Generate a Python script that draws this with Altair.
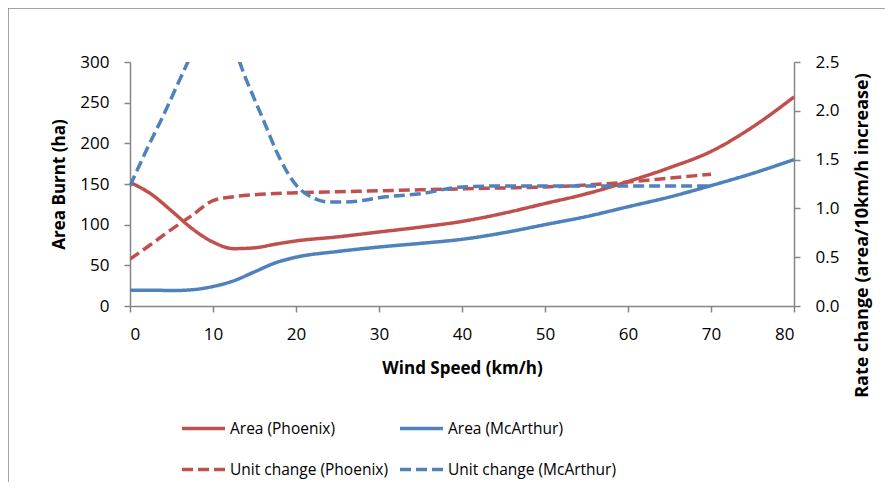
import altair as alt
import pandas as pd

# ---- data ----
area_x = [0, 2.5, 5, 7.5, 10, 12.5, 15, 17.5, 20, 25, 30, 35, 40, 45, 50, 55, 60, 65, 70, 75, 80]
area_phoenix = [152, 138, 117, 95, 78.6, 70.5, 71.5, 76, 80, 85, 91, 97, 104, 114, 126, 138, 153, 170, 190, 220, 257]
area_mcarthur = [19.5, 19.5, 19, 20, 24, 31, 42, 53, 60, 67, 72.5, 77, 82, 90, 100, 110, 122, 134, 148, 163, 180]

unit_ph_x = [0, 2.5, 5, 7.5, 10, 12.5, 15, 20, 25, 30, 35, 40, 45, 50, 55, 60, 65, 70]
unit_phoenix = [0.48, 0.63, 0.785, 0.93, 1.08, 1.12, 1.14, 1.16, 1.17, 1.18, 1.19, 1.20, 1.21, 1.22, 1.24, 1.27, 1.31, 1.35]

unit_mc_x = [0, 2, 4, 6, 8, 10, 12, 14, 16, 18, 20, 22, 24, 26, 28, 30, 35, 40, 45, 50, 55, 60, 65, 70]
unit_mcarthur = [1.23, 1.6, 1.95, 2.32, 2.68, 2.95, 2.75, 2.32, 1.92, 1.52, 1.24, 1.11, 1.065, 1.065, 1.08, 1.11, 1.15, 1.22, 1.23, 1.23, 1.23, 1.23, 1.23, 1.23]

# legend fills column by column: col 1 = Phoenix, col 2 = McArthur
series_names = ["Area (Phoenix)", "Unit change (Phoenix)", "Area (McArthur)", "Unit change (McArthur)"]
series_colors = ["#C0504D", "#C0504D", "#4F81BD", "#4F81BD"]
series_dash = [[1, 0], [11, 5], [1, 0], [11, 5]]

area_df = pd.concat([
    pd.DataFrame({"x": area_x, "v": area_phoenix, "s": "Area (Phoenix)"}),
    pd.DataFrame({"x": area_x, "v": area_mcarthur, "s": "Area (McArthur)"}),
])
rate_df = pd.concat([
    pd.DataFrame({"x": unit_ph_x, "v": unit_phoenix, "s": "Unit change (Phoenix)"}),
    pd.DataFrame({"x": unit_mc_x, "v": unit_mcarthur, "s": "Unit change (McArthur)"}),
])

FONT = "Open Sans"
AXC = "#868686"

legend = alt.Legend(
    title=None, orient="none", legendX=50, legendY=343, columns=2,
    symbolType="stroke", symbolSize=1849, symbolStrokeWidth=3.5,
    labelFontSize=15.5, labelFont=FONT, labelColor="#000000", labelOffset=3,
    columnPadding=5, rowPadding=9, labelLimit=300,
)

color = alt.Color("s:N", scale=alt.Scale(domain=series_names, range=series_colors), legend=legend)
dash = alt.StrokeDash("s:N", scale=alt.Scale(domain=series_names, range=series_dash), legend=legend)

xenc = alt.X("x:Q", scale=alt.Scale(domain=[0, 80], nice=False),
             axis=alt.Axis(values=list(range(0, 81, 10)), title="Wind Speed (km/h)",
                           titleX=332, titleY=62, titleBaseline="middle", titleAlign="center"))

area_layer = alt.Chart(area_df).mark_line(strokeWidth=3.5, interpolate="monotone").encode(
    x=xenc,
    y=alt.Y("v:Q", scale=alt.Scale(domain=[0, 300], nice=False),
            axis=alt.Axis(values=list(range(0, 301, 50)), title="Area Burnt (ha)",
                          titleX=-71, titleY=122, titleAngle=270, titleAlign="center",
                          titleBaseline="middle")),
    color=color, strokeDash=dash, detail="s:N",
)

rate_layer = alt.Chart(rate_df).mark_line(strokeWidth=3.5, interpolate="monotone", clip=True).encode(
    x=xenc,
    y=alt.Y("v:Q", scale=alt.Scale(domain=[0, 2.5], nice=False),
            axis=alt.Axis(orient="right", values=[0, 0.5, 1, 1.5, 2, 2.5], format=".1f",
                          title="Rate change  (area/10km/h increase)",
                          titleX=68, titleY=173, titleAngle=270, titleAlign="center",
                          titleBaseline="middle", titleFontSize=18)),
    color=color, strokeDash=dash, detail="s:N",
)

border_df = pd.DataFrame({"k": [0]})
top_border = alt.Chart(border_df).mark_rule(color=AXC, strokeWidth=1.5, clip=False).encode(
    x=alt.value(-122), x2=alt.value(900), y=alt.value(-54))
left_border = alt.Chart(border_df).mark_rule(color=AXC, strokeWidth=1.5, clip=False).encode(
    x=alt.value(-122), y=alt.value(-54), y2=alt.value(600))

chart = alt.layer(area_layer, rate_layer).resolve_scale(y="independent")
chart = alt.layer(chart, top_border, left_border).properties(
    width=664, height=244,
    autosize=alt.AutoSizeParams(type="none"),
    padding={"left": 122, "top": 54, "right": 91, "bottom": 176},
).configure_view(stroke=None).configure_axis(
    grid=False, domainColor=AXC, tickColor=AXC, domainWidth=1.5, tickWidth=1.5,
    tickSize=6, labelPadding=14, labelFont=FONT, labelFontSize=17, labelColor="#000000",
    titleFont=FONT, titleFontSize=17, titleFontWeight="bold", titleColor="#000000",
).configure_axisY(labelPadding=15)

chart.save("out.html", embed_options={"renderer": "svg", "actions": False})
